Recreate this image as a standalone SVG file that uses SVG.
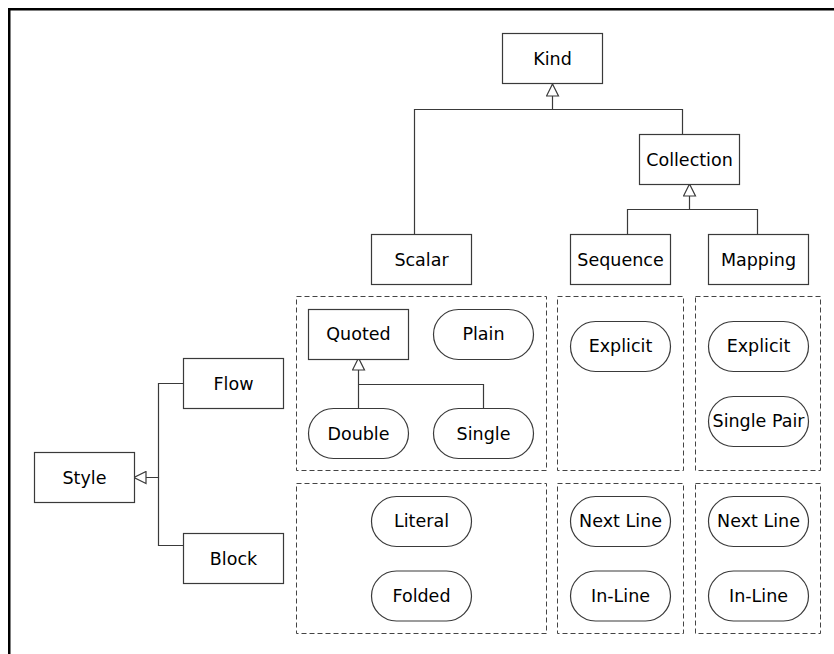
<svg xmlns="http://www.w3.org/2000/svg" width="834" height="654" viewBox="0 0 834 654">
<style>
.box{fill:#fff;stroke:#3a3a3a;stroke-width:1.2}
.grp{fill:none;stroke:#444;stroke-width:1;stroke-dasharray:5 3}
.con{fill:none;stroke:#3a3a3a;stroke-width:1.2}
text{font-family:"DejaVu Sans",sans-serif;font-size:17.5px;fill:#000;text-anchor:middle}
</style>
<defs>
<marker id="gen" viewBox="0 0 14 14" refX="13" refY="7" markerWidth="14" markerHeight="14" markerUnits="userSpaceOnUse" orient="auto">
<path d="M1,1 L13,7 L1,13 Z" fill="#fff" stroke="#3a3a3a" stroke-width="1.2"/>
</marker>
</defs>
<rect x="0" y="0" width="834" height="654" fill="#fff"/>
<rect x="9.25" y="9.25" width="1000" height="1000" fill="none" stroke="#000" stroke-width="2.5"/>

<g id="groups">
<rect class="grp" x="296.5" y="296.5" width="250" height="174"/>
<rect class="grp" x="296.5" y="483.5" width="250" height="150"/>
<rect class="grp" x="557.5" y="296.5" width="126" height="174"/>
<rect class="grp" x="557.5" y="483.5" width="126" height="150"/>
<rect class="grp" x="695.5" y="296.5" width="125" height="174"/>
<rect class="grp" x="695.5" y="483.5" width="125" height="150"/>
</g>

<g id="connectors">
<path class="con" d="M414.5,234 V109.5 H552.5 V84" marker-end="url(#gen)"/>
<path class="con" d="M682.5,134 V109.5 H552.5"/>
<path class="con" d="M627.5,234 V209.5 H689.5 V184" marker-end="url(#gen)"/>
<path class="con" d="M757.5,234 V209.5 H689.5"/>
<path class="con" d="M183,383.5 H158.5 V477.5 H134" marker-end="url(#gen)"/>
<path class="con" d="M183,545.5 H158.5 V477.5"/>
<path class="con" d="M358.5,408 V384.5 V358" marker-end="url(#gen)"/>
<path class="con" d="M483.5,408 V384.5 H358.5"/>
</g>

<g id="kind"><rect class="box" x="502.5" y="33.5" width="100" height="50"/><text x="552.5" y="64.5">Kind</text></g>
<g id="collection"><rect class="box" x="639.5" y="134.5" width="100" height="50"/><text x="689.5" y="165.5">Collection</text></g>
<g id="scalar"><rect class="box" x="371.5" y="234.5" width="100" height="50"/><text x="421.5" y="265.5">Scalar</text></g>
<g id="sequence"><rect class="box" x="570.5" y="234.5" width="100" height="50"/><text x="620.5" y="265.5">Sequence</text></g>
<g id="mapping"><rect class="box" x="708.5" y="234.5" width="100" height="50"/><text x="758.5" y="265.5">Mapping</text></g>

<g id="style"><rect class="box" x="34.5" y="452.5" width="100" height="50"/><text x="84.5" y="483.5">Style</text></g>
<g id="flow"><rect class="box" x="183.5" y="358.5" width="100" height="50"/><text x="233.5" y="389.5">Flow</text></g>
<g id="block"><rect class="box" x="183.5" y="533.5" width="100" height="50"/><text x="233.5" y="564.5">Block</text></g>

<g id="quoted"><rect class="box" x="308.5" y="309.5" width="100" height="50"/><text x="358.5" y="339.5">Quoted</text></g>
<g id="plain"><rect class="box" x="433.5" y="309.5" width="100" height="50" rx="25"/><text x="483.5" y="339.5">Plain</text></g>
<g id="double"><rect class="box" x="308.5" y="408.5" width="100" height="50" rx="25"/><text x="358.5" y="439.5">Double</text></g>
<g id="single"><rect class="box" x="433.5" y="408.5" width="100" height="50" rx="25"/><text x="483.5" y="439.5">Single</text></g>
<g id="literal"><rect class="box" x="371.5" y="496.5" width="100" height="50" rx="25"/><text x="421.5" y="527">Literal</text></g>
<g id="folded"><rect class="box" x="371.5" y="571" width="100" height="50" rx="25"/><text x="421.5" y="601.5">Folded</text></g>

<g id="seq-explicit"><rect class="box" x="570.5" y="321.5" width="100" height="50" rx="25"/><text x="620.5" y="352">Explicit</text></g>
<g id="seq-nextline"><rect class="box" x="570.5" y="496.5" width="100" height="50" rx="25"/><text x="620.5" y="527">Next Line</text></g>
<g id="seq-inline"><rect class="box" x="570.5" y="571" width="100" height="50" rx="25"/><text x="620.5" y="601.5">In-Line</text></g>

<g id="map-explicit"><rect class="box" x="708.5" y="321.5" width="100" height="50" rx="25"/><text x="758.5" y="352">Explicit</text></g>
<g id="map-singlepair"><rect class="box" x="708.5" y="396.5" width="100" height="50" rx="25"/><text x="758.5" y="427">Single Pair</text></g>
<g id="map-nextline"><rect class="box" x="708.5" y="496.5" width="100" height="50" rx="25"/><text x="758.5" y="527">Next Line</text></g>
<g id="map-inline"><rect class="box" x="708.5" y="571" width="100" height="50" rx="25"/><text x="758.5" y="601.5">In-Line</text></g>
</svg>
